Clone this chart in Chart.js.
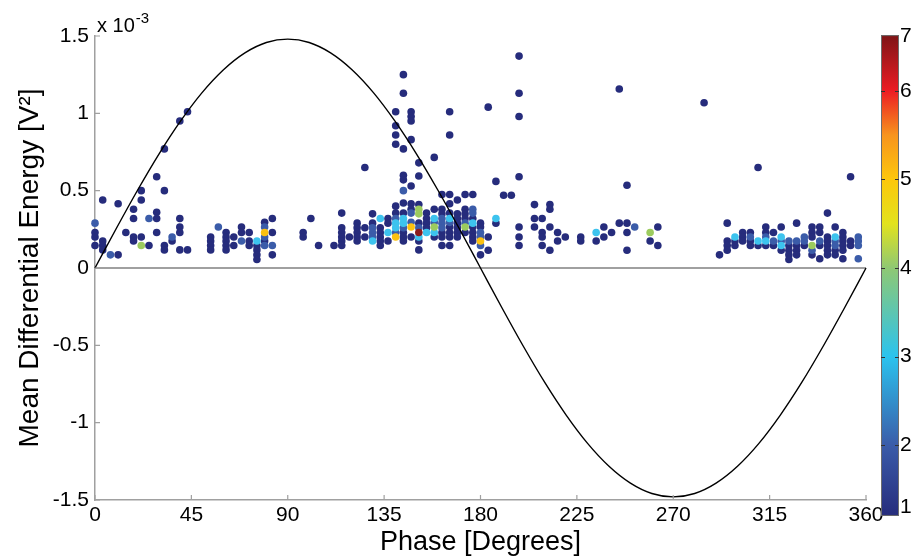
<!DOCTYPE html>
<html>
<head>
<meta charset="utf-8">
<script src="https://cdn.jsdelivr.net/npm/chart.js@4.4.1/dist/chart.umd.min.js"></script>
<style>
  html, body { margin: 0; padding: 0; background: #fff; }
  canvas { display: block; }
</style>
</head>
<body>
<canvas id="prpd" width="914" height="556"></canvas>
<script>
'use strict';

// Energia en unidades de 1e-3 V^2 (el eje lleva el factor "x 10^-3")
// Puntos agrupados por número de descargas (color del colorbar)
const hits1 = [
  [0,0.23],[0,0.20],[0,0.145],
  [3.6,0.44],[3.6,0.175],[3.6,0.145],[3.6,0.117],
  [10.8,0.415],[10.8,0.085],[14.4,0.23],
  [18,0.38],[18,0.32],[18,0.20],[18,0.175],
  [21.6,0.50],[21.6,0.44],[21.6,0.20],[25.2,0.145],
  [28.8,0.59],[28.8,0.36],[28.8,0.32],[28.8,0.23],
  [32.4,0.77],[32.4,0.50],[32.4,0.145],[32.4,0.117],
  [36,0.175],
  [39.6,0.95],[39.6,0.32],[39.6,0.265],[39.6,0.23],[39.6,0.117],
  [43.2,1.01],[43.2,0.117],
  [54,0.20],[54,0.175],[54,0.145],[54,0.117],
  [61.2,0.23],[61.2,0.20],[61.2,0.175],[61.2,0.145],[61.2,0.117],
  [64.8,0.20],[64.8,0.145],[68.4,0.265],[68.4,0.23],
  [72,0.23],[72,0.175],[72,0.145],
  [75.6,0.145],[75.6,0.117],[75.6,0.085],[75.6,0.055],
  [79.2,0.295],[79.2,0.175],
  [82.8,0.32],[82.8,0.23],[82.8,0.085],
  [97.2,0.23],[97.2,0.20],[100.8,0.32],[104.4,0.145],[111.6,0.145],
  [115.2,0.355],[115.2,0.26],[115.2,0.23],[115.2,0.20],[115.2,0.175],[115.2,0.145],
  [118.8,0.20],
  [122.4,0.29],[122.4,0.26],[122.4,0.23],[122.4,0.20],[122.4,0.175],
  [126,0.65],[126,0.26],[126,0.20],
  [129.6,0.35],[129.6,0.29],
  [133.2,0.26],[133.2,0.23],[133.2,0.20],[133.2,0.175],[133.2,0.145],
  [136.8,0.32],[136.8,0.29],[136.8,0.175],
  [140.4,1.01],[140.4,0.92],[140.4,0.86],[140.4,0.80],[140.4,0.40],[140.4,0.355],
  [144,1.25],[144,1.13],[144,0.77],[144,0.60],[144,0.57],[144,0.42],[144,0.355],[144,0.23],[144,0.20],[144,0.175],
  [147.6,1.01],[147.6,0.98],[147.6,0.95],[147.6,0.83],[147.6,0.53],[147.6,0.415],[147.6,0.38],[147.6,0.20],
  [151.2,0.68],[151.2,0.595],[151.2,0.41],[151.2,0.29],[151.2,0.175],[151.2,0.117],
  [154.8,0.355],[154.8,0.32],[154.8,0.29],[154.8,0.26],
  [158.4,0.715],[158.4,0.38],[158.4,0.20],
  [162,0.475],[162,0.38],[162,0.35],[162,0.23],[162,0.20],[162,0.145],
  [165.6,1.01],[165.6,0.86],[165.6,0.475],[165.6,0.415],[165.6,0.355],[165.6,0.265],[165.6,0.23],[165.6,0.20],[165.6,0.145],
  [169.2,0.44],[169.2,0.35],[169.2,0.32],[169.2,0.29],[169.2,0.26],[169.2,0.23],[169.2,0.20],
  [172.8,0.475],[172.8,0.38],[172.8,0.35],[172.8,0.32],[172.8,0.23],
  [176.4,0.475],[176.4,0.32],[176.4,0.265],[176.4,0.23],[176.4,0.20],[176.4,0.175],
  [180,0.29],[180,0.265],[180,0.085],
  [183.6,1.04],[183.6,0.20],[183.6,0.115],
  [187.2,0.56],[187.2,0.29],[190.8,0.47],[194.4,0.47],
  [198,1.37],[198,1.13],[198,0.98],[198,0.59],[198,0.265],[198,0.20],[198,0.145],
  [205.2,0.41],[205.2,0.32],[205.2,0.265],
  [208.8,0.32],[208.8,0.23],[208.8,0.20],[208.8,0.145],
  [212.4,0.41],[212.4,0.38],[212.4,0.265],[212.4,0.115],
  [216,0.23],[216,0.175],[219.6,0.20],[226.8,0.20],[226.8,0.175],
  [234,0.175],[237.6,0.265],[237.6,0.20],[241.2,0.23],
  [244.8,1.157],[244.8,0.29],
  [248.4,0.535],[248.4,0.29],[248.4,0.23],[248.4,0.115],
  [259.2,0.175],[262.8,0.265],[262.8,0.145],
  [284.4,1.068],[291.6,0.085],
  [295.2,0.29],[295.2,0.175],[295.2,0.145],[295.2,0.115],
  [298.8,0.175],[298.8,0.145],
  [302.4,0.23],[302.4,0.20],[302.4,0.175],
  [306,0.23],[306,0.175],[306,0.145],
  [309.6,0.65],[309.6,0.145],
  [313.2,0.265],[313.2,0.23],[313.2,0.145],
  [316.8,0.23],[316.8,0.145],
  [320.4,0.265],[320.4,0.115],
  [324,0.145],[324,0.115],[324,0.085],[324,0.055],
  [327.6,0.29],[327.6,0.145],[327.6,0.115],[327.6,0.085],
  [331.2,0.145],
  [334.8,0.265],[334.8,0.23],[334.8,0.20],[334.8,0.085],
  [338.4,0.265],[338.4,0.23],[338.4,0.145],[338.4,0.06],
  [342,0.355],[342,0.20],[342,0.175],[342,0.145],[342,0.115],[342,0.085],
  [345.6,0.265],[345.6,0.115],[345.6,0.085],
  [349.2,0.23],[349.2,0.20],[349.2,0.175],[349.2,0.145],[349.2,0.115],[349.2,0.06],
  [352.8,0.59],[352.8,0.175],[352.8,0.145]
];

const hits2 = [
  [0,0.29],[7.2,0.085],[25.2,0.32],[36,0.20],[57.6,0.265],[68.4,0.175],
  [79.2,0.265],[79.2,0.20],[79.2,0.145],[82.8,0.145],
  [129.6,0.26],[129.6,0.23],[129.6,0.20],[140.4,0.32],[140.4,0.23],
  [144,0.50],[144,0.26],[147.6,0.355],[147.6,0.295],[151.2,0.26],[158.4,0.295],
  [162,0.32],[162,0.29],[162,0.26],[165.6,0.295],[172.8,0.29],
  [176.4,0.38],[176.4,0.355],[180,0.23],[180,0.20],[180,0.145],
  [252,0.265],[306,0.20],[313.2,0.20],[316.8,0.175],[320.4,0.175],[324,0.175],
  [327.6,0.175],[331.2,0.20],[331.2,0.175],[334.8,0.115],[338.4,0.175],
  [345.6,0.175],[345.6,0.145],
  [356.4,0.20],[356.4,0.175],[356.4,0.145],[356.4,0.06]
];

const hits3 = [
  [75.6,0.175],[129.6,0.175],[133.2,0.32],[136.8,0.23],[140.4,0.29],[140.4,0.26],
  [144,0.32],[144,0.29],[151.2,0.20],[154.8,0.23],[158.4,0.32],[158.4,0.23],
  [165.6,0.32],[176.4,0.29],[187.2,0.32],[234,0.23],[298.8,0.20],[309.6,0.175],
  [313.2,0.175],[320.4,0.20],[320.4,0.145],[345.6,0.20]
];

const hits4 = [
  [21.6,0.145],[151.2,0.38],[151.2,0.35],[158.4,0.265],[172.8,0.265],[259.2,0.23],[334.8,0.145]
];

const hits5 = [[79.2,0.23],[140.4,0.20],[147.6,0.265],[180,0.175]];

const hits7 = [[151.2,0.23]];

// Onda de referencia (tensión aplicada), leída cada 10 grados
const sinePhase = [0,10,20,30,40,50,60,70,80,90,100,110,120,130,140,150,160,170,180,
  190,200,210,220,230,240,250,260,270,280,290,300,310,320,330,340,350,360];
const sineRef = [0,0.257,0.506,0.74,0.951,1.134,1.282,1.391,1.458,1.48,1.458,1.391,1.282,1.134,0.951,0.74,0.506,0.257,0,
  -0.257,-0.506,-0.74,-0.951,-1.134,-1.282,-1.391,-1.458,-1.48,-1.458,-1.391,-1.282,-1.134,-0.951,-0.74,-0.506,-0.257,0];

const phaseTicks = [0,45,90,135,180,225,270,315,360];
const energyTicks = [-1.5,-1,-0.5,0,0.5,1,1.5];

// Colorbar: rango visible y etiquetas 1..7
const cbRange = [1.2, 6.63];
const cbTickValues = [1.3, 2, 3, 4, 5, 6, 6.62];
const cbTickLabels = ['1','2','3','4','5','6','7'];
const cbStops = [
  [1.2,'#262c7c'],[2,'#3b5ca9'],[3,'#2bc3ee'],[4,'#8fc873'],[4.5,'#e2e31e'],
  [5,'#fdc70c'],[5.5,'#f7941d'],[6,'#ec1c24'],[6.63,'#7e1416']
];

const hitColors = { 1:'#262c7c', 2:'#3b5ca9', 3:'#3dc3ee', 4:'#9ccb5e', 5:'#fcc10f', 7:'#8b1c1c' };

const FONT = '"Liberation Sans", Arial, Helvetica, sans-serif';
const axisGray = '#a0a0a0';

function toXY(list) {
  return list.map(p => ({ x: p[0], y: p[1] }));
}

function hitSet(list, level, order) {
  return {
    label: String(level),
    data: toXY(list),
    backgroundColor: hitColors[level],
    borderWidth: 0,
    pointRadius: 3.8,
    pointHoverRadius: 3.8,
    clip: false,
    order: order
  };
}

const decorations = {
  id: 'decorations',
  beforeDatasetsDraw(chart) {
    const { ctx, chartArea, scales: { y } } = chart;
    // línea de cero gris
    const py = y.getPixelForValue(0);
    ctx.save();
    ctx.strokeStyle = axisGray;
    ctx.lineWidth = 2;
    ctx.beginPath();
    ctx.moveTo(chartArea.left, py);
    ctx.lineTo(chartArea.right, py);
    ctx.stroke();
    ctx.restore();
  },
  afterDraw(chart) {
    const { ctx, chartArea, scales: { x, y, cb } } = chart;
    ctx.save();

    // ticks hacia adentro, estilo MATLAB
    ctx.strokeStyle = axisGray;
    ctx.lineWidth = 1.2;
    ctx.beginPath();
    x.ticks.forEach(t => {
      const px = x.getPixelForValue(t.value);
      ctx.moveTo(px, chartArea.bottom);
      ctx.lineTo(px, chartArea.bottom - 5);
    });
    y.ticks.forEach(t => {
      const py = y.getPixelForValue(t.value);
      ctx.moveTo(chartArea.left, py);
      ctx.lineTo(chartArea.left + 5, py);
    });
    ctx.stroke();

    // colorbar
    const top = cb.getPixelForValue(cbRange[1]);
    const bottom = cb.getPixelForValue(cbRange[0]);
    const left = chartArea.right + 15;
    const w = 18;
    const grad = ctx.createLinearGradient(0, bottom, 0, top);
    cbStops.forEach(([v, c]) => {
      grad.addColorStop((v - cbRange[0]) / (cbRange[1] - cbRange[0]), c);
    });
    ctx.fillStyle = grad;
    ctx.fillRect(left, top, w, bottom - top);
    ctx.strokeStyle = '#6d6d6d';
    ctx.lineWidth = 1;
    ctx.strokeRect(left + 0.5, top + 0.5, w - 1, bottom - top - 1);
    ctx.strokeStyle = '#333';
    ctx.beginPath();
    [2, 3, 4, 5, 6].forEach(v => {
      const py = Math.round(cb.getPixelForValue(v)) + 0.5;
      ctx.moveTo(left, py); ctx.lineTo(left + 4, py);
      ctx.moveTo(left + w - 4, py); ctx.lineTo(left + w, py);
    });
    ctx.stroke();

    // factor de escala del eje y
    ctx.fillStyle = '#000';
    ctx.textBaseline = 'alphabetic';
    ctx.textAlign = 'left';
    ctx.font = '20px ' + FONT;
    const base = chartArea.left + 2;
    ctx.fillText('x 10', base, chartArea.top - 4);
    const wTen = ctx.measureText('x 10').width;
    ctx.font = '15px ' + FONT;
    ctx.fillText('-3', base + wTen + 1, chartArea.top - 13);

    ctx.restore();
  }
};

new Chart(document.getElementById('prpd'), {
  type: 'scatter',
  data: {
    datasets: [
      {
        label: 'Referencia',
        type: 'line',
        data: sinePhase.map((p, i) => ({ x: p, y: sineRef[i] })),
        borderColor: '#000',
        borderWidth: 1.4,
        pointRadius: 0,
        fill: false,
        cubicInterpolationMode: 'monotone',
        clip: false,
        order: 0
      },
      hitSet(hits7, 7, 1),
      hitSet(hits5, 5, 2),
      hitSet(hits4, 4, 3),
      hitSet(hits3, 3, 4),
      hitSet(hits2, 2, 5),
      hitSet(hits1, 1, 6)
    ]
  },
  options: {
    responsive: false,
    animation: false,
    layout: { padding: { top: 36, right: 0, bottom: 0, left: 0 } },
    plugins: {
      legend: { display: false },
      tooltip: { enabled: false }
    },
    scales: {
      x: {
        type: 'linear',
        position: 'bottom',
        min: 0,
        max: 360,
        afterBuildTicks: s => { s.ticks = phaseTicks.map(v => ({ value: v })); },
        ticks: {
          color: '#000',
          font: { family: FONT, size: 21 },
          padding: 3,
          maxRotation: 0,
          autoSkip: false,
          callback: v => String(v)
        },
        grid: { display: false, drawTicks: false },
        border: { display: true, color: axisGray, width: 1.5 },
        title: {
          display: true,
          text: 'Phase [Degrees]',
          color: '#000',
          font: { family: FONT, size: 27 },
          padding: { top: 0, bottom: -3 }
        },
        afterFit: s => { s.height = 56; }
      },
      y: {
        type: 'linear',
        position: 'left',
        min: -1.5,
        max: 1.5,
        afterBuildTicks: s => { s.ticks = energyTicks.map(v => ({ value: v })); },
        ticks: {
          color: '#000',
          font: { family: FONT, size: 21 },
          padding: 6,
          callback: v => String(v)
        },
        grid: { display: false, drawTicks: false },
        border: { display: true, color: axisGray, width: 1.5 },
        title: {
          display: true,
          text: 'Mean Differential Energy [V²]',
          color: '#000',
          font: { family: FONT, size: 28 },
          padding: { top: 13, bottom: 0 }
        },
        afterFit: s => { s.width = 95; }
      },
      cb: {
        type: 'linear',
        position: 'right',
        min: 1.38,
        max: 6.62,
        afterBuildTicks: s => { s.ticks = cbTickValues.map(v => ({ value: v })); },
        ticks: {
          color: '#000',
          font: { family: FONT, size: 21 },
          padding: 2,
          callback: (v, i) => cbTickLabels[i]
        },
        // marcas invisibles: solo desplazan las etiquetas a la derecha del colorbar
        grid: {
          display: true,
          drawOnChartArea: false,
          drawTicks: true,
          tickLength: 32,
          color: 'rgba(0,0,0,0)'
        },
        border: { display: false },
        afterFit: s => { s.width = 48; }
      }
    }
  },
  plugins: [decorations]
});
</script>
</body>
</html>
